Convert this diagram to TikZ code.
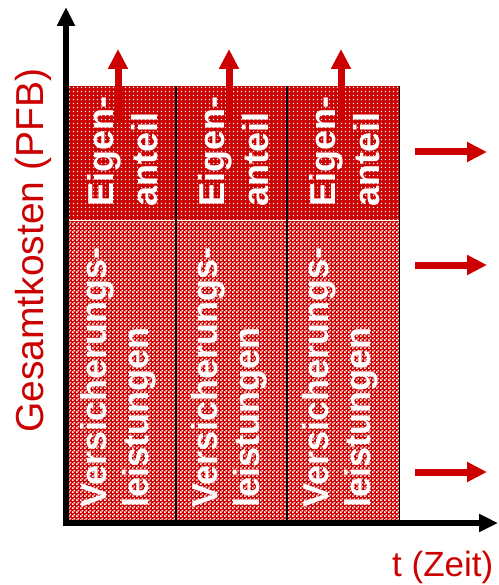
\documentclass[tikz,border=0pt]{standalone}
\usepackage{fontspec}
\setmainfont{Liberation Sans}
\usetikzlibrary{arrows.meta,patterns.meta}
\definecolor{pfbred}{RGB}{204,0,0}
\tikzdeclarepattern{
  name=wdots,
  type=uncolored,
  bounding box={(0pt,0pt) and (4pt,4pt)},
  tile size={(4pt,4pt)},
  code={\fill (1pt,1pt) rectangle (2.7pt,2.7pt);}
}
\tikzdeclarepattern{
  name=checker,
  type=uncolored,
  bounding box={(0pt,0pt) and (4pt,4pt)},
  tile size={(4pt,4pt)},
  code={\fill (0pt,0pt) rectangle (2pt,2pt); \fill (2pt,2pt) rectangle (4pt,4pt);}
}
\begin{document}
\begin{tikzpicture}[x=1pt,y=-1pt,
  axis/.style={line width=6pt,-{Triangle[length=19pt,width=17pt]}},
  redarrow/.style={pfbred,line width=7pt,-{Triangle[length=20pt,width=19pt]}},
  blocktext/.style={white,font=\bfseries\fontsize{36}{43}\selectfont,rotate=90,anchor=base west,inner sep=0pt},
  seprule/.style={black,line width=1.6pt},
  eigenfill/.style={pattern=wdots,pattern color=white},
  versfill/.style={pattern=checker,pattern color=white}
]
\useasboundingbox (0,0) rectangle (498,585);
% blocks
\foreach \xa/\xb/\k in {69/176/1,176/287/2,287/399/3}{
  \fill[pfbred] (\xa,86) rectangle (\xb,219.5);
  \fill[eigenfill] (\xa,86) rectangle (\xb,219.5);
  \fill[pfbred] (\xa,221) rectangle (\xb,520);
  \fill[versfill] (\xa,221) rectangle (\xb,520);
}
\draw[seprule] (176,86) -- (176,520);
\draw[seprule] (287,86) -- (287,520);
\draw[black,line width=1pt] (399,86) -- (399,520);
% texts in blocks
\foreach \dx/\k in {0/1,111/2,222/3}{
  \node[blocktext] (eig\k) at (113+\dx,207) {Eigen-};
  \node[blocktext] (ant\k) at (157+\dx,207) {anteil};
  \node[blocktext] (ver\k) at (106+\dx,508) {Versicherungs-};
  \node[blocktext] (lei\k) at (148+\dx,508) {leistungen};
}
% vertical red arrows
\foreach \xx/\k in {118/1,229/2,341/3}{
  \coordinate (up\k s) at (\xx,123);
  \coordinate (up\k e) at (\xx,49);
  \draw[redarrow] (up\k s) -- (up\k e);
}
% horizontal red arrows
\foreach \yy/\k in {152/1,265/2,472/3}{
  \coordinate (rt\k s) at (415,\yy);
  \coordinate (rt\k e) at (487,\yy);
  \draw[redarrow] (rt\k s) -- (rt\k e);
}
% axes
\coordinate (O) at (66,523);
\coordinate (ytip) at (66,7);
\coordinate (xtip) at (498,523);
\coordinate (ybase) at (66,526);
\coordinate (xbase) at (63,523);
\draw[axis] (ybase) -- (ytip);
\draw[axis] (xbase) -- (xtip);
% labels
\node[pfbred,rotate=90,anchor=base west,inner sep=0pt,font=\fontsize{39}{47}\selectfont] (ylabel) at (43,433) {Gesamtkosten (PFB)};
\node[pfbred,anchor=base west,inner sep=0pt,font=\fontsize{35}{42}\selectfont] (xlabel) at (392,576) {t (Zeit)};
\end{tikzpicture}
\end{document}
